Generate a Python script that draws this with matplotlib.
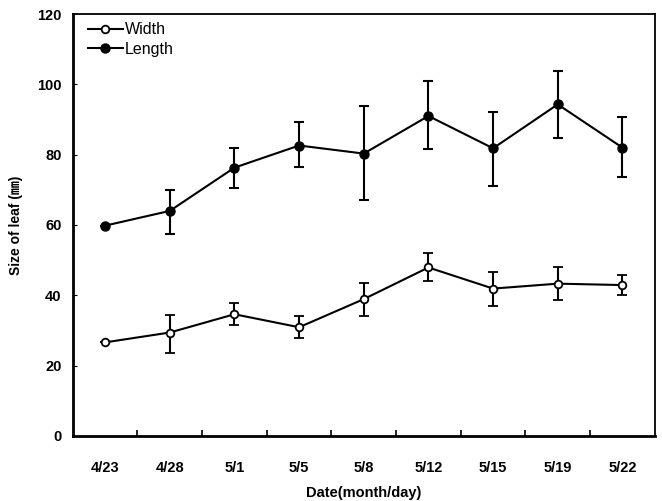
import matplotlib
matplotlib.use("Agg")
import matplotlib.pyplot as plt
from matplotlib.lines import Line2D
import numpy as np

# ---------------------------------------------------------------------------
# Data
# ---------------------------------------------------------------------------
dates = ["4/23", "4/28", "5/1", "5/5", "5/8", "5/12", "5/15", "5/19", "5/22"]

width_mean = [26.6, 29.4, 34.6, 30.9, 38.9, 47.9, 41.9, 43.3, 42.9]
width_low = [26.6, 23.7, 31.4, 27.7, 34.0, 44.0, 37.0, 38.7, 40.0]
width_high = [26.6, 34.5, 37.9, 34.0, 43.5, 51.9, 46.7, 47.9, 45.9]

length_mean = [59.8, 64.0, 76.3, 82.6, 80.3, 91.0, 81.8, 94.3, 82.0]
length_low = [59.8, 57.3, 70.6, 76.4, 67.2, 81.5, 71.2, 84.6, 73.5]
length_high = [59.8, 69.8, 81.8, 89.2, 93.7, 100.9, 92.0, 103.7, 90.6]

plt.rcParams["font.family"] = ["Liberation Sans", "Noto Sans CJK KR", "DejaVu Sans"]
plt.rcParams["font.weight"] = "bold"

x = np.arange(len(dates))

fig = plt.figure(figsize=(6.62, 5.01), dpi=100)
ax = fig.add_axes([0.110, 0.130, 0.879, 0.842])


def yerr(mean, low, high):
    m = np.array(mean)
    return [m - np.array(low), np.array(high) - m]


ax.errorbar(x, width_mean, yerr=yerr(width_mean, width_low, width_high),
            color="black", linewidth=1.5, elinewidth=1.5, capsize=3.5, capthick=1.5,
            marker="o", markersize=5.5, markerfacecolor="white", markeredgecolor="black",
            markeredgewidth=1.3)
ax.errorbar(x, length_mean, yerr=yerr(length_mean, length_low, length_high),
            color="black", linewidth=1.5, elinewidth=1.5, capsize=3.5, capthick=1.5,
            marker="o", markersize=6.5, markerfacecolor="black", markeredgecolor="black")

ax.set_xlim(-0.5, len(dates) - 0.5)
ax.set_ylim(0, 120)
ax.set_yticks(range(0, 121, 20))
ax.set_xticks(x)
ax.set_xticklabels(dates)
ax.set_xticks(x[:-1] + 0.5, minor=True)
ax.tick_params(axis="x", which="major", length=0, pad=18, labelsize=10.5)
ax.tick_params(axis="x", which="minor", direction="in", length=4, width=1.2)
ax.tick_params(axis="y", direction="in", length=3, labelsize=10.5, pad=8)

for side in ["left", "bottom"]:
    ax.spines[side].set_linewidth(2.0)
for side in ["top", "right"]:
    ax.spines[side].set_linewidth(1.3)

ax.set_xlabel("Date(month/day)", fontsize=10.5, fontweight="bold", labelpad=8)
ax.set_ylabel("Size of leaf (\u339c)", fontsize=10, fontweight="bold", labelpad=10)

handles = [
    Line2D([], [], color="black", linewidth=1.5, marker="o", markersize=5.5,
           markerfacecolor="white", markeredgewidth=1.3),
    Line2D([], [], color="black", linewidth=1.5, marker="o", markersize=6.5,
           markerfacecolor="black"),
]
leg = ax.legend(handles, ["Width", "Length"], loc="upper left", frameon=False,
                fontsize=11.5, handlelength=2.2, handletextpad=0.1, labelspacing=0.28,
                borderaxespad=0.2, borderpad=0.3)
leg.set_bbox_to_anchor((0.012, 0.999), transform=ax.transAxes)
for t in leg.get_texts():
    t.set_fontweight("normal")

fig.savefig("out.png", dpi=100)
